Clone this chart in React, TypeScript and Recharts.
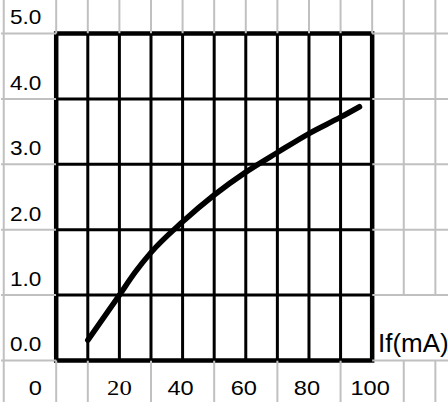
import { LineChart, Line, XAxis, YAxis, ReferenceLine, ReferenceArea } from 'recharts';

// forward current (mA) vs. voltage curve
const currentMa = [10, 20, 25, 30, 40, 50, 60, 70, 80, 90, 96];
const voltage = [0.31, 1.0, 1.35, 1.65, 2.12, 2.53, 2.88, 3.18, 3.47, 3.72, 3.88];

const yTicks = [0, 1, 2, 3, 4, 5];
const xTicks = [0, 20, 40, 60, 80, 100];
const boxCols = [10, 20, 30, 40, 50, 60, 70, 80, 90];
const boxRows = [1, 2, 3, 4];
const topRowCols = [0, 10, 20, 30, 40, 50, 60, 70, 80, 90, 100, 110, 120];
const rightCols = [110, 120];
const bottomRowCols = [0, 10, 30, 50, 70, 90, 110, 120];
const labelColEdge = -16.6;

const X_MIN = -17.47;
const X_MAX = 124;
const Y_MIN = -0.635;
const Y_MAX = 5.512;

const SANS = '"Liberation Sans", Arial, sans-serif';
const SERIF = '"Liberation Serif", "Times New Roman", serif';
const GREY = '#c0c0c0';

const data = currentMa.map((ma, i) => ({ ma, v: voltage[i] }));

function XTick({ x, y, payload }: any) {
  const v = payload.value;
  const serif = v === 20;
  const dx = v === 0 ? -21 : serif ? 0 : -2;
  return (
    <text
      transform={`translate(${x + dx},${y - 7}) scale(1.18,1)`}
      textAnchor="middle"
      fontFamily={serif ? SERIF : SANS}
      fontSize={serif ? 21 : 20}
      fill="#000"
    >
      {v}
    </text>
  );
}

function YTick({ y, payload }: any) {
  return (
    <text
      transform={`translate(10,${y - 9}) scale(1.13,1)`}
      fontFamily={SANS}
      fontSize={20}
      fill="#000"
    >
      {Number(payload.value).toFixed(1)}
    </text>
  );
}

export default function App() {
  return (
    <div style={{ position: 'absolute', left: 0, top: 0, background: '#fff' }}>
      <LineChart width={448} height={403} data={data} margin={{ top: 0, right: 0, bottom: 0, left: 0 }}>
        <XAxis
          dataKey="ma"
          type="number"
          domain={[X_MIN, X_MAX]}
          allowDataOverflow
          ticks={xTicks}
          interval={0}
          height={1}
          tickSize={0}
          tickMargin={0}
          axisLine={false}
          tickLine={false}
          tick={<XTick />}
        />
        <YAxis
          type="number"
          domain={[Y_MIN, Y_MAX]}
          allowDataOverflow
          ticks={yTicks}
          interval={0}
          width={1}
          tickSize={0}
          tickMargin={0}
          axisLine={false}
          tickLine={false}
          tick={<YTick />}
        />

        {/* grey sheet grid outside the plot box */}
        <ReferenceLine segment={[{ x: labelColEdge, y: Y_MIN }, { x: labelColEdge, y: Y_MAX }]} stroke={GREY} strokeWidth={2} />
        {yTicks.map((t) => (
          <ReferenceLine key={'gl' + t} segment={[{ x: X_MIN, y: t }, { x: 0, y: t }]} stroke={GREY} strokeWidth={2} />
        ))}
        {yTicks.map((t) => (
          <ReferenceLine key={'gr' + t} segment={[{ x: 100, y: t }, { x: X_MAX, y: t }]} stroke={GREY} strokeWidth={2} />
        ))}
        {topRowCols.map((c) => (
          <ReferenceLine key={'gt' + c} segment={[{ x: c, y: 5 }, { x: c, y: Y_MAX }]} stroke={GREY} strokeWidth={2} />
        ))}
        {rightCols.map((c) => (
          <ReferenceLine key={'gs' + c} segment={[{ x: c, y: 1 }, { x: c, y: 5 }]} stroke={GREY} strokeWidth={2} />
        ))}
        {bottomRowCols.map((c) => (
          <ReferenceLine key={'gb' + c} segment={[{ x: c, y: Y_MIN }, { x: c, y: 0 }]} stroke={GREY} strokeWidth={2} />
        ))}

        {/* black chart grid */}
        {boxCols.map((c) => (
          <ReferenceLine key={'bc' + c} segment={[{ x: c, y: 0 }, { x: c, y: 5 }]} stroke="#000" strokeWidth={3} />
        ))}
        {boxRows.map((r) => (
          <ReferenceLine key={'br' + r} segment={[{ x: 0, y: r }, { x: 100, y: r }]} stroke="#000" strokeWidth={3} />
        ))}
        <ReferenceArea x1={0} x2={100} y1={0} y2={5} fill="none" fillOpacity={0} stroke="#000" strokeWidth={4.5} />

        <Line
          dataKey="v"
          type="monotone"
          stroke="#000"
          strokeWidth={5.5}
          strokeLinecap="round"
          dot={false}
          activeDot={false}
          isAnimationActive={false}
        />

        <text x={378} y={352} fontFamily={SANS} fontSize={26} fill="#000">
          If(mA)
        </text>
      </LineChart>
    </div>
  );
}
